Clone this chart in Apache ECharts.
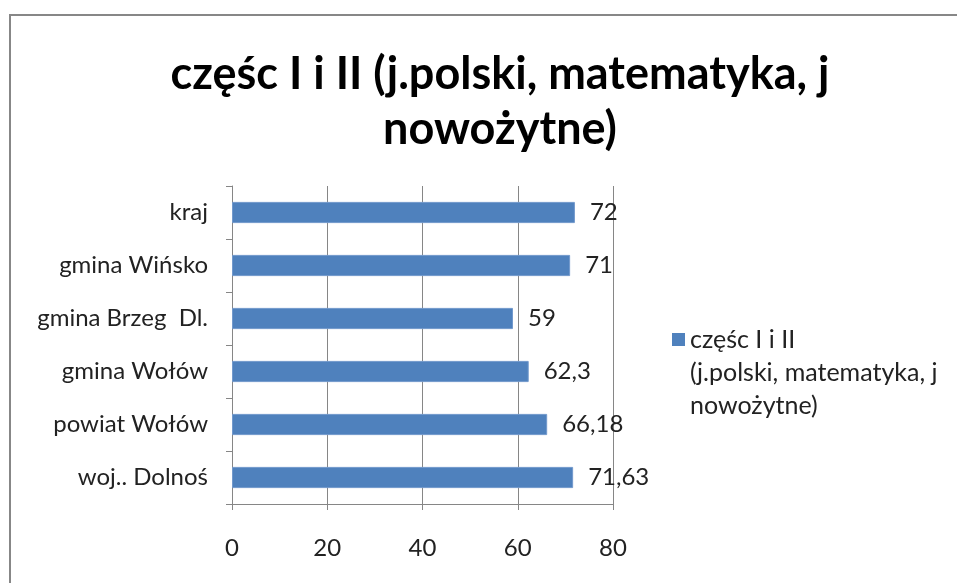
<!DOCTYPE html>
<html>
<head>
<meta charset="utf-8">
<script src="https://cdn.jsdelivr.net/npm/echarts@6/dist/echarts.min.js"></script>
<style>
  html, body { margin: 0; padding: 0; background: #fff; }
  #chart { width: 957px; height: 583px; }
</style>
</head>
<body>
<div id="chart"></div>
<script>
const categories = ["woj.. Dolnoś", "powiat Wołów", "gmina Wołów", "gmina Brzeg  Dl.", "gmina Wińsko", "kraj"];
const values = [71.63, 66.18, 62.3, 59, 71, 72];
const seriesName = "częśc I i II\n(j.polski, matematyka, j\nnowożytne)";
const titleText = "częśc I i II (j.polski, matematyka, j\nnowożytne)";

const font = "Lato, 'Open Sans', sans-serif";
const chart = echarts.init(document.getElementById("chart"));

const options = {
  animation: false,
  title: {
    text: titleText,
    left: 495,
    top: 42,
    textAlign: "center",
    textStyle: {
      fontFamily: font,
      fontWeight: "bold",
      fontSize: 45,
      lineHeight: 55,
      color: "#000",
    },
  },
  graphic: [
    {
      type: "rect",
      shape: { x: 10, y: 15, width: 1000, height: 700 },
      style: { fill: "none", stroke: "#878787", lineWidth: 2 },
      silent: true,
    },
  ],
  legend: {
    left: 667,
    top: 252,
    itemWidth: 13,
    itemHeight: 13,
    icon: "rect",
    itemStyle: { borderWidth: 0 },
    // two blank lines on top so the square sits beside the first line
    formatter: (name) => "\n\n" + name,
    textStyle: {
      fontFamily: font,
      fontSize: 25,
      lineHeight: 33,
      color: "#222",
    },
    data: [seriesName],
  },
  grid: {
    left: 232,
    right: 344,
    top: 186,
    bottom: 79,
    containLabel: false,
  },
  xAxis: {
    type: "value",
    min: 0,
    max: 80,
    interval: 20,
    axisLine: { show: true, lineStyle: { color: "#868686" } },
    axisTick: { show: true, length: 6, lineStyle: { color: "#868686" } },
    splitLine: { show: true, lineStyle: { color: "#868686", width: 1 } },
    axisLabel: {
      fontFamily: font,
      fontSize: 24,
      color: "#222",
      margin: 32,
    },
  },
  yAxis: {
    type: "category",
    data: categories,
    axisLine: { show: true, lineStyle: { color: "#868686" } },
    axisTick: { show: true, length: 6, lineStyle: { color: "#868686" } },
    axisLabel: {
      fontFamily: font,
      fontSize: 24,
      color: "#222",
      margin: 24,
    },
  },
  series: [
    {
      name: seriesName,
      type: "bar",
      data: values,
      barCategoryGap: "60%",
      itemStyle: {
        color: "#4F81BD",
        borderColor: "#7299cc",
        borderWidth: 1,
      },
      label: {
        show: true,
        position: "right",
        distance: 15,
        fontFamily: font,
        fontSize: 24,
        color: "#222",
        formatter: (p) => String(p.value).replace(".", ","),
      },
    },
  ],
};

chart.setOption(options);
</script>
</body>
</html>
